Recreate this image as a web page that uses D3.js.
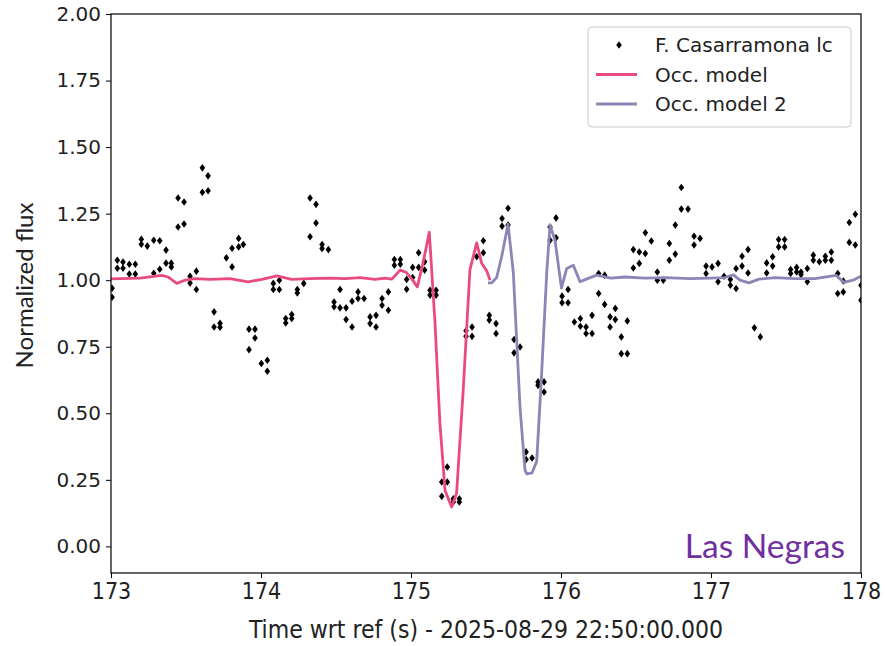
<!DOCTYPE html>
<meta charset="utf-8">
<style>
body { margin: 0; background: #fff; }
.axis .domain { display: none; }
.axis text { fill: #222; }
</style>
<body>
<svg width="885" height="646"></svg>
<script src="https://cdn.jsdelivr.net/npm/d3@7"></script>
<script>

// light curve points (time in s, normalized flux)
var lcTime = [
  173.007, 173.007, 173.042, 173.042, 173.080, 173.080, 173.122, 173.122, 173.162, 173.162,
  173.202, 173.202, 173.242, 173.285, 173.285, 173.325, 173.325, 173.367, 173.367, 173.402, 173.402,
  173.447, 173.447, 173.487, 173.487, 173.527, 173.527, 173.569, 173.569, 173.609, 173.609,
  173.647, 173.647, 173.687, 173.687, 173.727, 173.727, 173.769, 173.807, 173.807, 173.851, 173.851,
  173.882, 173.920, 173.920, 173.960, 173.960, 174.002, 174.042, 174.042, 174.082, 174.082,
  174.122, 174.122, 174.165, 174.165, 174.205, 174.205, 174.242, 174.242, 174.285, 174.327, 174.327,
  174.367, 174.367, 174.407, 174.407, 174.449, 174.487, 174.487, 174.527, 174.527, 174.567, 174.567,
  174.607, 174.607, 174.647, 174.647, 174.687, 174.727, 174.727, 174.767, 174.767, 174.807, 174.807,
  174.849, 174.849, 174.889, 174.889, 174.929, 174.929, 174.971, 174.971, 175.011, 175.011,
  175.051, 175.051, 175.091, 175.091, 175.127, 175.127, 175.167, 175.167, 175.205, 175.205,
  175.242, 175.242, 175.282, 175.282, 175.322, 175.322, 175.367, 175.367, 175.407, 175.407,
  175.438, 175.482, 175.482, 175.522, 175.522, 175.567, 175.567, 175.607, 175.607, 175.647, 175.647,
  175.687, 175.687, 175.727, 175.767, 175.767, 175.807, 175.847, 175.847, 175.887, 175.887,
  175.927, 175.927, 175.967, 175.967, 176.007, 176.007, 176.047, 176.047, 176.089, 176.129, 176.129,
  176.167, 176.167, 176.207, 176.207, 176.251, 176.251, 176.291, 176.291, 176.327, 176.327,
  176.362, 176.362, 176.402, 176.402, 176.442, 176.442, 176.482, 176.482, 176.522, 176.522,
  176.562, 176.562, 176.602, 176.642, 176.642, 176.682, 176.722, 176.722, 176.762, 176.762,
  176.802, 176.802, 176.847, 176.887, 176.887, 176.927, 176.967, 176.967, 177.007, 177.047, 177.047,
  177.087, 177.129, 177.129, 177.167, 177.167, 177.207, 177.207, 177.247, 177.247, 177.289, 177.329,
  177.371, 177.371, 177.411, 177.411, 177.451, 177.451, 177.491, 177.491, 177.531, 177.531,
  177.571, 177.571, 177.600, 177.600, 177.642, 177.642, 177.682, 177.682, 177.722, 177.762, 177.762,
  177.802, 177.802, 177.845, 177.845, 177.882, 177.882, 177.922, 177.922, 177.962, 177.962,
  178.000, 178.000
];
var lcFlux = [
  0.970, 0.936, 1.075, 1.045, 1.068, 1.045, 1.060, 1.023, 1.060, 1.023,
  1.154, 1.135, 1.128, 1.150, 1.026, 1.148, 1.041, 1.113, 1.064, 1.064, 1.050,
  1.309, 1.200, 1.294, 1.211, 1.015, 0.989, 1.034, 0.965, 1.422, 1.330,
  1.392, 1.336, 0.881, 0.824, 0.838, 0.823, 1.084, 1.120, 1.050, 1.157, 1.125,
  1.134, 0.816, 0.739, 0.816, 0.783, 0.687, 0.699, 0.658, 0.988, 0.965,
  1.000, 0.965, 0.856, 0.839, 0.871, 0.856, 0.965, 0.952, 0.988, 1.309, 1.163,
  1.285, 1.215, 1.134, 1.119, 1.115, 0.918, 0.900, 0.965, 0.896, 0.896, 0.852,
  0.921, 0.824, 0.956, 0.931, 0.931, 0.862, 0.837, 0.868, 0.824, 0.931, 0.906,
  0.956, 0.887, 1.078, 1.056, 1.078, 1.060, 1.003, 0.966, 1.048, 1.010,
  1.103, 1.048, 1.069, 1.038, 0.962, 0.944, 0.962, 0.944, 0.242, 0.188,
  0.298, 0.242, 0.179, 0.167, 0.179, 0.167, 0.789, 0.810, 0.824, 0.789,
  1.088, 1.148, 1.103, 0.868, 0.850, 0.837, 0.800, 1.232, 1.203, 1.270, 1.207,
  0.777, 0.727, 0.749, 0.355, 0.326, 0.332, 0.618, 0.605, 0.618, 0.580,
  1.200, 1.150, 1.234, 1.159, 0.940, 0.915, 0.965, 0.915, 0.843, 0.856, 0.827,
  0.824, 0.800, 0.868, 0.800, 1.025, 0.950, 1.019, 0.909, 0.862, 0.824,
  0.894, 0.852, 0.787, 0.724, 0.847, 0.724, 1.115, 1.046, 1.106, 1.063,
  1.178, 1.100, 1.147, 1.031, 1.000, 1.000, 1.138, 1.075, 1.207, 1.098,
  1.348, 1.267, 1.267, 1.165, 1.132, 1.157, 1.053, 1.025, 1.050, 1.063, 0.994,
  1.015, 1.003, 0.981, 1.044, 0.969, 1.090, 1.053, 1.115, 1.027, 0.821, 0.787,
  1.065, 1.027, 1.088, 1.053, 1.153, 1.125, 1.153, 1.125, 1.040, 1.025,
  1.048, 1.031, 1.031, 1.021, 1.044, 0.994, 1.094, 1.075, 1.069, 1.090, 1.075,
  1.106, 1.075, 1.025, 0.950, 0.997, 0.956, 1.217, 1.142, 1.248, 1.132,
  0.981, 0.925
];

// occultation model 1
var modelTime = [173.000, 173.193, 173.338, 173.380, 173.438, 173.493, 173.560, 173.660, 173.793, 173.913,
  174.007, 174.105, 174.205, 174.327, 174.460, 174.560, 174.660, 174.760, 174.827, 174.873,
  174.927, 174.967, 175.005, 175.042, 175.082, 175.122, 175.160, 175.193, 175.227, 175.271,
  175.304, 175.348, 175.393, 175.438, 175.471, 175.505, 175.527];
var modelFlux = [1.005, 1.008, 1.018, 1.012, 0.988, 1.000, 1.006, 1.003, 1.006, 0.994,
  1.003, 1.016, 1.003, 1.006, 1.008, 1.006, 1.010, 1.003, 1.008, 1.004,
  1.038, 1.030, 1.005, 0.975, 1.070, 1.180, 0.840, 0.460, 0.210, 0.148,
  0.200, 0.586, 1.040, 1.140, 1.064, 1.035, 1.000];

// occultation model 2
var model2Time = [175.513, 175.538, 175.571, 175.605, 175.647, 175.682, 175.727, 175.760, 175.773, 175.807,
  175.838, 175.871, 175.905, 175.927, 175.960, 176.003, 176.038, 176.082, 176.127, 176.173,
  176.238, 176.333, 176.427, 176.560, 176.693, 176.860, 176.993, 177.093, 177.149, 177.193,
  177.253, 177.320, 177.427, 177.560, 177.693, 177.833, 177.887, 177.947, 178.000];
var model2Flux = [0.990, 0.990, 1.010, 1.090, 1.210, 1.030, 0.520, 0.286, 0.272, 0.276,
  0.320, 0.650, 1.030, 1.207, 1.150, 0.970, 1.044, 1.056, 0.994, 1.005,
  1.019, 1.008, 1.012, 1.008, 1.010, 1.006, 1.008, 1.010, 1.020, 1.000,
  0.990, 1.004, 1.010, 1.006, 1.006, 1.018, 0.992, 1.000, 1.015];

var xTicks = [173, 174, 175, 176, 177, 178];
var yTicks = [0, 0.25, 0.5, 0.75, 1.0, 1.25, 1.5, 1.75, 2.0];

var pink = "#ea4a82", purple = "#8f84b6";

var svg = d3.select("svg"),
    margin = {top: 14, right: 24, bottom: 73, left: 111},
    width = +svg.attr("width") - margin.left - margin.right,
    height = +svg.attr("height") - margin.top - margin.bottom,
    g = svg.append("g").attr("transform", "translate(" + margin.left + "," + margin.top + ")");

var x = d3.scaleLinear().domain([173, 178]).range([0, width]);
var y = d3.scaleLinear().domain([-0.1, 2.0]).range([height, 0]);

g.append("clipPath").attr("id", "clip")
  .append("rect").attr("width", width).attr("height", height);

var plot = g.append("g").attr("clip-path", "url(#clip)");

var line = d3.line()
    .x(function(d) { return x(d[0]); })
    .y(function(d) { return y(d[1]); });

// data points as small diamonds
plot.selectAll("path.pt")
  .data(d3.zip(lcTime, lcFlux))
  .enter().append("path")
    .attr("class", "pt")
    .attr("d", "M0,-3.8L2.8,0L0,3.8L-2.8,0Z")
    .attr("transform", function(d) { return "translate(" + x(d[0]) + "," + y(d[1]) + ")"; })
    .attr("fill", "#000");

plot.append("path")
    .datum(d3.zip(modelTime, modelFlux))
    .attr("d", line)
    .attr("fill", "none")
    .attr("stroke", pink)
    .attr("stroke-width", 2.8)
    .attr("stroke-linejoin", "round");

plot.append("path")
    .datum(d3.zip(model2Time, model2Flux))
    .attr("d", line)
    .attr("fill", "none")
    .attr("stroke", purple)
    .attr("stroke-width", 2.8)
    .attr("stroke-linejoin", "round");

// axes
g.append("g")
    .attr("class", "axis")
    .attr("transform", "translate(0," + height + ")")
    .style("font-family", "'Liberation Sans Narrow', 'DejaVu Sans Condensed', sans-serif")
    .style("font-size", "23px")
    .call(d3.axisBottom(x).tickValues(xTicks).tickFormat(d3.format("d")).tickSize(5).tickPadding(5));

g.append("g")
    .attr("class", "axis")
    .style("font-family", "'DejaVu Sans', sans-serif")
    .style("font-size", "20px")
    .call(d3.axisLeft(y).tickValues(yTicks).tickFormat(d3.format(".2f")).tickSize(5).tickPadding(5));

g.append("rect")
    .attr("width", width)
    .attr("height", height)
    .attr("fill", "none")
    .attr("stroke", "#000")
    .attr("stroke-width", 1.2);

// axis titles
svg.append("text")
    .attr("x", 486)
    .attr("y", 638)
    .attr("text-anchor", "middle")
    .style("font-family", "'Liberation Sans Narrow', 'DejaVu Sans Condensed', sans-serif")
    .style("font-size", "24.5px")
    .attr("fill", "#222")
    .text("Time wrt ref (s)  - 2025-08-29 22:50:00.000");

svg.append("text")
    .attr("transform", "translate(33," + (margin.top + y(0.98)) + ") rotate(-90)")
    .attr("text-anchor", "middle")
    .style("font-family", "Lato, sans-serif")
    .style("font-size", "24px")
    .attr("fill", "#222")
    .text("Normalized flux");

// site name
g.append("text")
    .attr("x", width - 16)
    .attr("y", 544)
    .attr("text-anchor", "end")
    .style("font-family", "Lato, sans-serif")
    .style("font-size", "33.5px")
    .attr("fill", "#7030a0")
    .text("Las Negras");

// legend
var legend = g.append("g")
    .attr("transform", "translate(" + (width - 273) + ",13)")
    .style("font-family", "'DejaVu Sans', sans-serif")
    .style("font-size", "20px");

legend.append("rect")
    .attr("width", 263)
    .attr("height", 100)
    .attr("rx", 4)
    .attr("fill", "#fff")
    .attr("stroke", "#ccc");

var items = [
  {name: "F. Casarramona lc", type: "dot"},
  {name: "Occ. model", type: pink},
  {name: "Occ. model 2", type: purple}
];

var item = legend.selectAll("g.item")
  .data(items)
  .enter().append("g")
    .attr("class", "item")
    .attr("transform", function(d, i) { return "translate(0," + (18 + i * 29.5) + ")"; });

item.filter(function(d) { return d.type === "dot"; })
  .append("path")
    .attr("d", "M0,-3.8L2.8,0L0,3.8L-2.8,0Z")
    .attr("transform", "translate(31,0)")
    .attr("fill", "#000");

item.filter(function(d) { return d.type !== "dot"; })
  .append("line")
    .attr("x1", 8).attr("x2", 49)
    .attr("stroke", function(d) { return d.type; })
    .attr("stroke-width", 2.8);

item.append("text")
    .attr("x", 67)
    .attr("dy", "0.36em")
    .attr("fill", "#222")
    .text(function(d) { return d.name; });

</script>
</body>
